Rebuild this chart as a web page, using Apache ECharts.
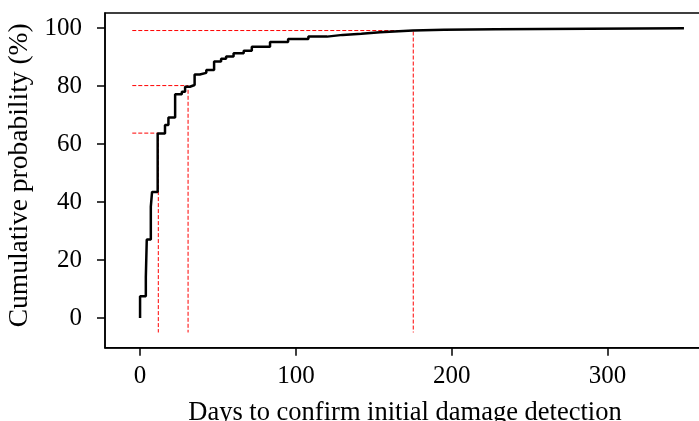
<!DOCTYPE html>
<html>
<head>
<meta charset="utf-8">
<script src="https://cdn.jsdelivr.net/npm/echarts@6/dist/echarts.min.js"></script>
<style>
html,body{margin:0;padding:0;background:#fff;}
#chart{width:699px;height:421px;}
</style>
</head>
<body>
<div id="chart"></div>
<script>
// Empirical cumulative distribution: [days, cumulative %]
const ecdfDays = [0, 0, 3.7, 4.3, 6.9, 7.7, 11.3, 16, 18.2, 22.5, 26.8, 28.9, 32, 35, 38.3, 42.5, 47.5, 52, 55.2, 60, 66.5, 71.7, 83.4, 95, 108, 120, 130, 142, 154, 175, 195, 228, 349];
const ecdfPct  = [0, 7.5, 14.2, 27.1, 38.4, 43.5, 63.7, 66.6, 69.2, 77.2, 78.1, 79.8, 80.4, 84.0, 84.6, 85.6, 88.5, 89.5, 90.2, 91.4, 92.2, 93.6, 95.2, 96.3, 97.1, 97.7, 98.1, 98.6, 99.2, 99.5, 99.6, 100, 100];
// Reference (percentile) lines: day and probability
const refDays = [11.7, 30.8, 175.3];
const refPct  = [63.8, 80.2, 99.2];
const refBase = -5;
const xTicks = [0, 100, 200, 300];
const yTicks = [0, 20, 40, 60, 80, 100];

const font = '"Liberation Serif", "Times New Roman", serif';
const series = [];
refDays.forEach((d, i) => {
  series.push({
    type: 'line', silent: true, symbol: 'none', z: 1,
    data: [[refBase, refPct[i]], [d, refPct[i]], [d, refBase]],
    lineStyle: {color: '#ff0000', width: 1, type: [4, 2]}
  });
});
series.push({
  type: 'line', step: 'end', symbol: 'none', z: 3,
  data: ecdfDays.map((d, i) => [d, ecdfPct[i]]),
  lineStyle: {color: '#000', width: 2.5}
});

const chart = echarts.init(document.getElementById('chart'), null, {renderer: 'canvas'});
chart.setOption({
  animation: false,
  backgroundColor: '#fff',
  grid: {left: 105, top: 13, width: 600, height: 334.7, containLabel: false, outerBoundsMode: 'none', show: true, borderColor: '#000', borderWidth: 1.5, backgroundColor: 'transparent'},
  xAxis: {
    type: 'value', min: -22.5, max: 362.5,
    name: 'Days to confirm initial damage detection', nameLocation: 'middle', nameGap: 52,
    nameTextStyle: {fontFamily: font, fontSize: 26.5, color: '#000'},
    axisLine: {show: true, onZero: false, lineStyle: {color: '#000', width: 1.5}},
    axisTick: {show: true, length: 8, inside: false, customValues: xTicks, lineStyle: {color: '#000', width: 1.5}},
    axisLabel: {customValues: xTicks, fontFamily: font, fontSize: 25, color: '#000', margin: 16},
    splitLine: {show: false}
  },
  yAxis: {
    type: 'value', min: -10.25, max: 105.25,
    name: 'Cumulative probability (%)', nameLocation: 'middle', nameGap: 68,
    nameTextStyle: {fontFamily: font, fontSize: 27.5, color: '#000', padding: [0, 0, 0, 10]},
    axisLine: {show: true, onZero: false, lineStyle: {color: '#000', width: 1.5}},
    axisTick: {show: true, length: 8, inside: false, customValues: yTicks, lineStyle: {color: '#000', width: 1.5}},
    axisLabel: {customValues: yTicks, fontFamily: font, fontSize: 25, color: '#000', margin: 23},
    splitLine: {show: false}
  },
  series: series
});
</script>
</body>
</html>
